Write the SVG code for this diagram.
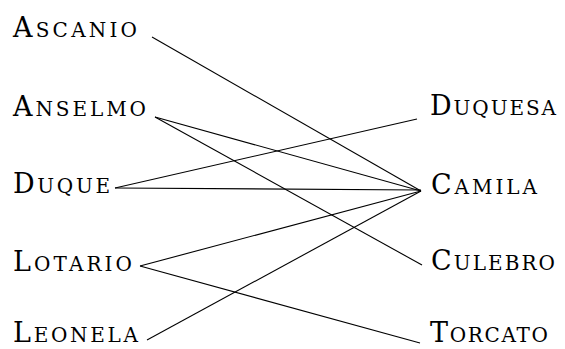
<svg xmlns="http://www.w3.org/2000/svg" width="565" height="349" viewBox="0 0 565 349">
  <style>
    .lbl { font-family: "DejaVu Serif", "Liberation Serif", serif; font-size: 27px; fill: #000; }
    .sc { font-size: 20px; }
    .edge { stroke: #000; stroke-width: 1.1; fill: none; }
  </style>
  <rect width="565" height="349" fill="#fff"/>

  <!-- character links -->
  <g id="connectors">
    <line class="edge" x1="152" y1="37" x2="421" y2="191"/>
    <line class="edge" x1="155" y1="117" x2="421" y2="191"/>
    <line class="edge" x1="155" y1="117" x2="422" y2="265"/>
    <line class="edge" x1="115" y1="188" x2="417" y2="119"/>
    <line class="edge" x1="115" y1="188" x2="421" y2="190"/>
    <line class="edge" x1="140" y1="266" x2="421" y2="191"/>
    <line class="edge" x1="140" y1="266" x2="420" y2="343"/>
    <line class="edge" x1="147" y1="340" x2="421" y2="191"/>
  </g>

  <!-- left column -->
  <g id="ascanio"><text class="lbl" x="13" y="37" textLength="124" lengthAdjust="spacing">A<tspan class="sc">SCANIO</tspan></text></g>
  <g id="anselmo"><text class="lbl" x="13" y="116" textLength="133" lengthAdjust="spacing">A<tspan class="sc">NSELMO</tspan></text></g>
  <g id="duque"><text class="lbl" x="13" y="193" textLength="97" lengthAdjust="spacing">D<tspan class="sc">UQUE</tspan></text></g>
  <g id="lotario"><text class="lbl" x="13" y="271" textLength="119" lengthAdjust="spacing">L<tspan class="sc">OTARIO</tspan></text></g>
  <g id="leonela"><text class="lbl" x="13" y="342" textLength="125" lengthAdjust="spacing">L<tspan class="sc">EONELA</tspan></text></g>

  <!-- right column -->
  <g id="duquesa"><text class="lbl" x="430" y="115" textLength="126" lengthAdjust="spacing">D<tspan class="sc">UQUESA</tspan></text></g>
  <g id="camila"><text class="lbl" x="431" y="194" textLength="106" lengthAdjust="spacing">C<tspan class="sc">AMILA</tspan></text></g>
  <g id="culebro"><text class="lbl" x="431" y="270" textLength="124" lengthAdjust="spacing">C<tspan class="sc">ULEBRO</tspan></text></g>
  <g id="torcato"><text class="lbl" x="430" y="342" textLength="118" lengthAdjust="spacing">T<tspan class="sc">ORCATO</tspan></text></g>
</svg>
